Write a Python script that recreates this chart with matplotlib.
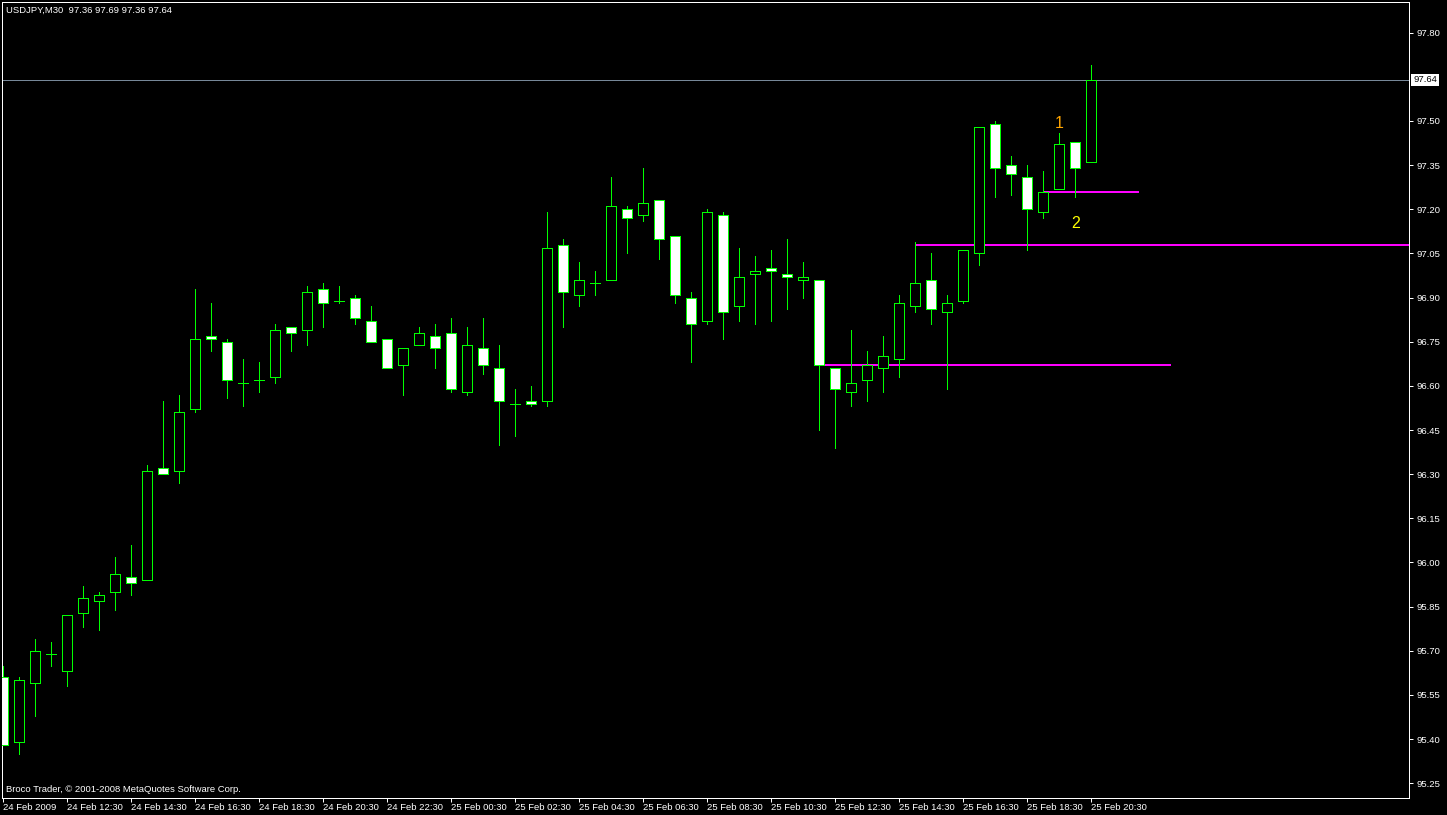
import matplotlib
matplotlib.use("Agg")
import matplotlib.pyplot as plt
from matplotlib.patches import Rectangle

plt.rcParams['font.family'] = ['Liberation Sans', 'DejaVu Sans']

# ---------------- data ----------------
opens = [95.61, 95.39, 95.59, 95.69, 95.63, 95.83, 95.87, 95.90, 95.95, 95.94,
         96.32, 96.31, 96.52, 96.77, 96.75, 96.61, 96.62, 96.63, 96.80, 96.79,
         96.93, 96.89, 96.90, 96.82, 96.76, 96.67, 96.74, 96.77, 96.78, 96.58,
         96.73, 96.66, 96.54, 96.55, 96.55, 97.08, 96.91, 96.95, 96.96, 97.20,
         97.18, 97.23, 97.11, 96.90, 96.82, 97.18, 96.87, 96.98, 97.00, 96.98,
         96.96, 96.96, 96.66, 96.58, 96.62, 96.66, 96.69, 96.87, 96.96, 96.85,
         96.89, 97.05, 97.49, 97.35, 97.31, 97.19, 97.27, 97.43, 97.36]
highs = [95.65, 95.61, 95.74, 95.73, 95.82, 95.92, 95.90, 96.02, 96.06, 96.33,
         96.55, 96.57, 96.93, 96.88, 96.76, 96.69, 96.68, 96.81, 96.80, 96.94,
         96.95, 96.94, 96.91, 96.87, 96.76, 96.73, 96.80, 96.81, 96.83, 96.80,
         96.83, 96.74, 96.59, 96.60, 97.19, 97.10, 97.02, 96.99, 97.31, 97.21,
         97.34, 97.23, 97.11, 96.92, 97.20, 97.19, 97.07, 97.04, 97.06, 97.10,
         97.02, 96.96, 96.66, 96.79, 96.72, 96.77, 96.91, 97.09, 97.05, 96.91,
         97.06, 97.48, 97.50, 97.38, 97.35, 97.33, 97.46, 97.43, 97.69]
lows = [95.38, 95.35, 95.48, 95.65, 95.58, 95.78, 95.77, 95.84, 95.89, 95.94,
        96.30, 96.27, 96.51, 96.72, 96.56, 96.53, 96.58, 96.61, 96.72, 96.74,
        96.80, 96.88, 96.81, 96.75, 96.66, 96.57, 96.74, 96.66, 96.58, 96.57,
        96.64, 96.40, 96.43, 96.53, 96.53, 96.80, 96.87, 96.91, 96.96, 97.05,
        97.16, 97.03, 96.88, 96.68, 96.81, 96.76, 96.82, 96.81, 96.82, 96.86,
        96.90, 96.45, 96.39, 96.53, 96.55, 96.58, 96.63, 96.85, 96.81, 96.59,
        96.88, 97.01, 97.24, 97.25, 97.06, 97.17, 97.27, 97.24, 97.36]
closes = [95.38, 95.60, 95.70, 95.69, 95.82, 95.88, 95.89, 95.96, 95.93, 96.31,
          96.30, 96.51, 96.76, 96.76, 96.62, 96.61, 96.62, 96.79, 96.78, 96.92,
          96.88, 96.89, 96.83, 96.75, 96.66, 96.73, 96.78, 96.73, 96.59, 96.74,
          96.67, 96.55, 96.54, 96.54, 97.07, 96.92, 96.96, 96.95, 97.21, 97.17,
          97.22, 97.10, 96.91, 96.81, 97.19, 96.85, 96.97, 96.99, 96.99, 96.97,
          96.97, 96.67, 96.59, 96.61, 96.67, 96.70, 96.88, 96.95, 96.86, 96.88,
          97.06, 97.48, 97.34, 97.32, 97.20, 97.26, 97.42, 97.34, 97.64]

time_labels = ["24 Feb 2009", "24 Feb 12:30", "24 Feb 14:30", "24 Feb 16:30",
               "24 Feb 18:30", "24 Feb 20:30", "24 Feb 22:30", "25 Feb 00:30",
               "25 Feb 02:30", "25 Feb 04:30", "25 Feb 06:30", "25 Feb 08:30",
               "25 Feb 10:30", "25 Feb 12:30", "25 Feb 14:30", "25 Feb 16:30",
               "25 Feb 18:30", "25 Feb 20:30"]
price_ticks = [95.25, 95.40, 95.55, 95.70, 95.85, 96.00, 96.15, 96.30, 96.45,
               96.60, 96.75, 96.90, 97.05, 97.20, 97.35, 97.50, 97.80]

# horizontal lines: (start bar, end bar, price)
levels = [(51, 73, 96.67), (57, 95, 97.08), (65, 71, 97.26)]
bid_price = 97.64
marks = [(66, 97.49, "1", "#FFA500"), (67, 97.15, "2", "#FFFF00")]

title = "USDJPY,M30  97.36 97.69 97.36 97.64"
footer = "Broco Trader, \u00a9 2001-2008 MetaQuotes Software Corp."

# ---------------- figure ----------------
W, H = 1447, 815
fig = plt.figure(figsize=(W / 100, H / 100), dpi=100, facecolor="black")
L, R, T, B = 2, 1409, 2, 798
ax = fig.add_axes([L / W, 1 - B / H, (R - L) / W, (B - T) / H])
ax.set_facecolor("black")

x0, step = 3.3, 16.0
ax.set_xlim((L - x0) / step, (R - x0) / step)
ax.set_ylim(95.200, 97.904)

green = "#00FF00"
lw1 = 0.72
n = len(opens)
idx = list(range(n))

# levels behind candles
for s, e, p in levels:
    ax.hlines(p, s, e, color="#FF00FF", lw=1.44, zorder=2, antialiased=False)
ax.axhline(bid_price, color="#778899", lw=lw1, zorder=2, antialiased=False)

ax.vlines(idx, lows, highs, color=green, lw=lw1, zorder=3, antialiased=False)
bw = 0.625
for i in idx:
    o, c = opens[i], closes[i]
    fc = "black" if c > o else "white"
    ax.add_patch(Rectangle((i - bw / 2, min(o, c)), bw, abs(c - o),
                           facecolor=fc, edgecolor=green, lw=lw1, zorder=4,
                           antialiased=False))

for xb, p, s, col in marks:
    ax.text(xb, p, s, color=col, fontsize=11.5, ha="center", va="center", zorder=5)

for sp in ax.spines.values():
    sp.set_color("white")
    sp.set_linewidth(lw1)

ax.yaxis.tick_right()
ax.set_yticks(price_ticks)
ax.set_yticklabels(["%.2f" % v for v in price_ticks])
ax.tick_params(axis="y", colors="white", length=3, width=lw1, pad=2.5, labelsize=6.8)

ax.set_xticks(list(range(0, n, 4)))
ax.set_xticklabels(time_labels)
ax.tick_params(axis="x", colors="white", length=3, width=lw1, pad=0.8, labelsize=6.8)
for lab in ax.get_xticklabels():
    lab.set_ha("left")

fig.text(6 / W, 1 - 10 / H, title, color="white", fontsize=6.8, va="center", ha="left")
fig.text(6 / W, 1 - 789 / H, footer, color="white", fontsize=6.8, va="center", ha="left")
fig.text(1413 / W, 1 - 80 / H, "%.2f" % bid_price, color="black", fontsize=6.8,
         va="center", ha="left",
         bbox=dict(facecolor="white", edgecolor="none", boxstyle="square,pad=0.2"))

fig.savefig("out.png", dpi=100, facecolor="black")
